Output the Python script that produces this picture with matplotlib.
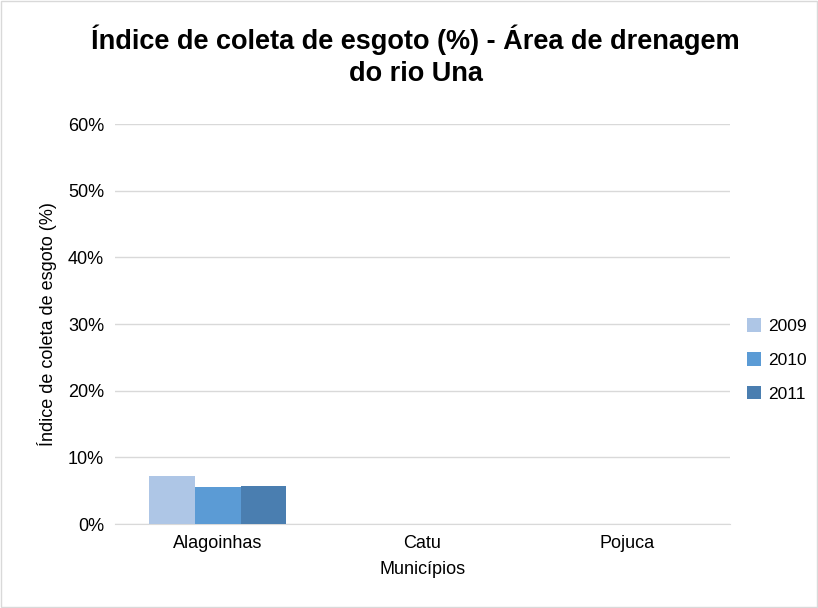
import matplotlib
matplotlib.use("Agg")
import matplotlib.pyplot as plt
import numpy as np

plt.rcParams['font.family'] = ['Liberation Sans Narrow', 'Liberation Sans', 'DejaVu Sans']

municipios = ["Alagoinhas", "Catu", "Pojuca"]
anos = ["2009", "2010", "2011"]
valores_2009 = [7.2, 0, 0]
valores_2010 = [5.5, 0, 0]
valores_2011 = [5.7, 0, 0]
cores = ["#aec6e6", "#5b9bd5", "#4a7eb0"]

fig = plt.figure(figsize=(8.18, 6.08), dpi=100)
ax = fig.add_axes([0.141, 0.138, 0.751, 0.658])

x = np.arange(len(municipios))
w = 0.223
for i, (vals, ano) in enumerate(zip([valores_2009, valores_2010, valores_2011], anos)):
    ax.bar(x + (i - 1) * w, vals, w, color=cores[i], label=ano, zorder=3)

ax.set_xlim(-0.5, 2.5)
ax.set_ylim(0, 60)
ax.set_yticks(range(0, 61, 10))
ax.set_yticklabels([f"{v}%" for v in range(0, 61, 10)], fontsize=13)
ax.set_xticks(x)
ax.set_xticklabels(municipios, fontsize=13)
ax.tick_params(length=0, pad=8)
ax.grid(axis='y', color='#d9d9d9', linewidth=1, zorder=0)
for s in ['top', 'right', 'left']:
    ax.spines[s].set_visible(False)
ax.spines['bottom'].set_color('#d9d9d9')

ax.set_xlabel("Municípios", fontsize=13, labelpad=6)
ax.set_ylabel("Índice de coleta de esgoto (%)", fontsize=13, labelpad=8)
fig.suptitle("Índice de coleta de esgoto (%) - Área de drenagem\ndo rio Una",
             fontsize=19.5, fontweight='bold', x=0.508, y=0.96, linespacing=1.3)

ax.legend(loc='center left', bbox_to_anchor=(1.0, 0.41), frameon=False,
          fontsize=12.5, handlelength=0.8, handleheight=0.8, labelspacing=1.05,
          handletextpad=0.4, borderaxespad=0.6)

fig.patches.append(plt.Rectangle((0.001, 0.001), 0.998, 0.998, transform=fig.transFigure,
                                 fill=False, edgecolor='#d9d9d9', linewidth=1))
fig.savefig("out.png", dpi=100)
